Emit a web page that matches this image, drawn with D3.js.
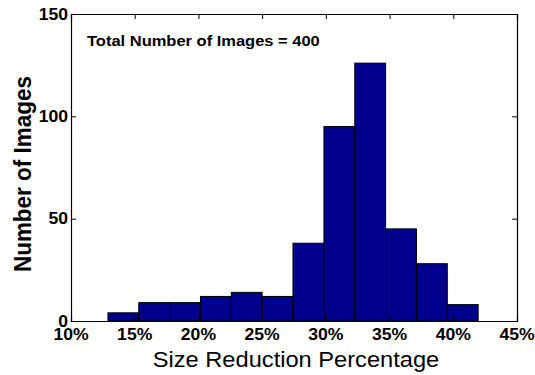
<!DOCTYPE html>
<html><head><meta charset="utf-8">
<script src="https://cdn.jsdelivr.net/npm/d3@7"></script>
<style>
html,body{margin:0;padding:0;background:#fff;}
svg{display:block;font-family:"Liberation Sans",Arial,Helvetica,sans-serif;}
</style></head>
<body>
<svg id="chart" width="535" height="375"></svg>
<script>
// Histogram bin edges (percent) and counts
const binEdges = [12.90, 15.32, 17.74, 20.16, 22.58, 25.00, 27.42, 29.85, 32.27, 34.69, 37.11, 39.53, 41.95];
const counts = [4, 9, 9, 12, 14, 12, 38, 95, 126, 45, 28, 8];
const xTicks = [10, 15, 20, 25, 30, 35, 40, 45];
const yTicks = [0, 50, 100, 150];
const xLabel = "Size Reduction Percentage";
const yLabel = "Number of Images";
const note = "Total Number of Images = 400";

const svg = d3.select("#chart");
const L = 71, R = 517, T = 14, B = 321;
const x = d3.scaleLinear().domain([10, 45]).range([L, R]);
const y = d3.scaleLinear().domain([0, 150]).range([B, T]);
const sx = 1.1; // horizontal stretch of the original figure's text

const bins = counts.map((c, i) => ({x0: binEdges[i], x1: binEdges[i + 1], c}));
svg.append("g").selectAll("rect").data(bins).join("rect")
  .attr("x", d => x(d.x0)).attr("width", d => x(d.x1) - x(d.x0))
  .attr("y", d => y(d.c)).attr("height", d => y(0) - y(d.c))
  .attr("fill", "#00008c").attr("stroke", "#000").attr("stroke-width", 1);

// axes with inward ticks
const tl = 5;
const gB = svg.append("g").attr("transform", `translate(0,${B})`)
  .call(d3.axisBottom(x).tickValues(xTicks).tickSize(-tl).tickFormat(() => ""));
const gT = svg.append("g").attr("transform", `translate(0,${T})`)
  .call(d3.axisTop(x).tickValues(xTicks).tickSize(-tl).tickFormat(() => ""));
const gL = svg.append("g").attr("transform", `translate(${L},0)`)
  .call(d3.axisLeft(y).tickValues(yTicks).tickSize(-tl).tickFormat(() => ""));
const gR = svg.append("g").attr("transform", `translate(${R},0)`)
  .call(d3.axisRight(y).tickValues(yTicks).tickSize(-tl).tickFormat(() => ""));
[gB, gT, gL, gR].forEach(g => {
  g.select(".domain").attr("stroke", "#000").attr("stroke-width", 1.2);
  g.selectAll(".tick line").attr("stroke", "#000").attr("stroke-width", 1);
});

function txt(px, py, s, size, weight, anchor) {
  return svg.append("text")
    .attr("transform", `translate(${px},${py}) scale(${sx},1)`)
    .attr("font-size", size).attr("font-weight", weight)
    .attr("text-anchor", anchor)
    .attr("fill", "#000").text(s);
}
// tick labels
xTicks.forEach(v => txt(x(v), 340, v + "%", 16, "bold", "middle"));
yTicks.forEach(v => txt(L - 3, y(v) + 5.5, v, 16, "bold", "end"));

// axis titles
txt((L + R) / 2 + 2, 366.5, xLabel, 21.5, "normal", "middle");
svg.append("text")
  .attr("transform", `translate(31,174) rotate(-90) scale(1,${sx})`)
  .attr("font-size", 22.5).attr("font-weight", "bold").attr("text-anchor", "middle")
  .attr("fill", "#000").text(yLabel);

// annotation
txt(87, 45.5, note, 15, "bold", "start");
</script>
</body></html>
